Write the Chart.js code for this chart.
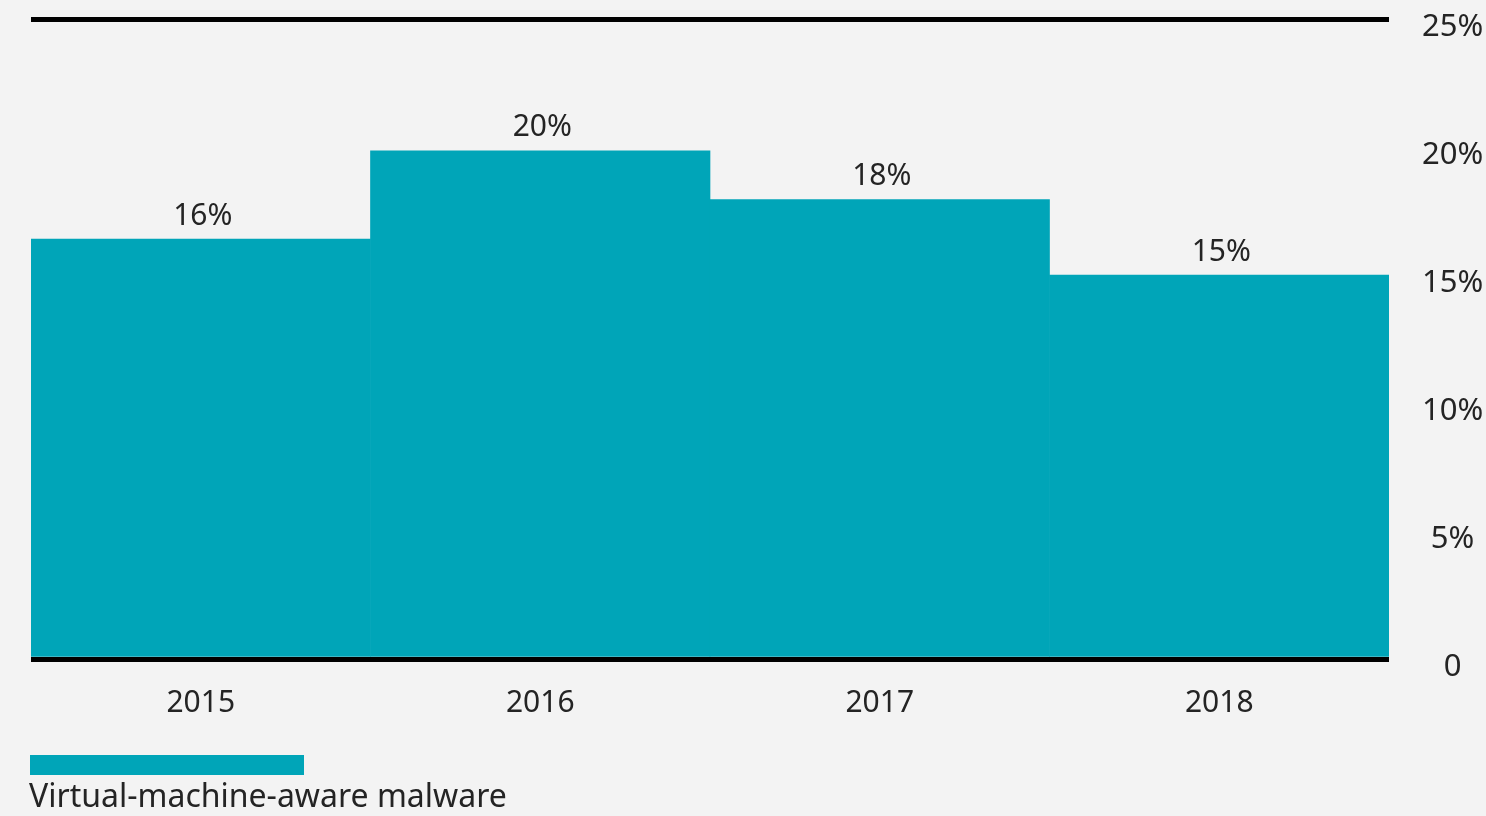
<!DOCTYPE html>
<html>
<head>
<meta charset="utf-8">
<script src="https://cdn.jsdelivr.net/npm/chart.js@4/dist/chart.umd.min.js"></script>
<style>
  html, body { margin: 0; padding: 0; background: #f3f3f3; }
  #wrap { width: 1486px; height: 816px; position: relative; }
</style>
</head>
<body>
<div id="wrap"><canvas id="vmChart"></canvas></div>
<script>
const years = ['2015', '2016', '2017', '2018'];
const shares = [16.4, 19.85, 17.95, 15.0];
const shareLabels = ['16%', '20%', '18%', '15%'];
const yTicks = [0, 5, 10, 15, 20, 25];
const seriesName = 'Virtual-machine-aware malware';

const teal = '#00a5b8';
const ink = '#242424';
const font = '"Noto Sans", sans-serif';

// value labels above each bar
const barLabels = {
    id: 'barLabels',
    afterDatasetsDraw(chart) {
        const ctx = chart.ctx;
        const meta = chart.getDatasetMeta(0);
        ctx.save();
        ctx.fillStyle = ink;
        ctx.font = '30px ' + font;
        ctx.textAlign = 'center';
        ctx.textBaseline = 'bottom';
        meta.data.forEach((bar, i) => {
            ctx.fillText(shareLabels[i], bar.x + 2, bar.y - 8);
        });
        ctx.restore();
    }
};

// legend: swatch on top, name underneath
const stackedLegend = {
    id: 'stackedLegend',
    afterDraw(chart) {
        const ctx = chart.ctx;
        const ds = chart.data.datasets[0];
        ctx.save();
        ctx.fillStyle = ds.backgroundColor;
        ctx.fillRect(30, 755, 274, 20);
        ctx.fillStyle = ink;
        ctx.font = '32px ' + font;
        ctx.textAlign = 'left';
        ctx.textBaseline = 'alphabetic';
        ctx.fillText(ds.label, 29, 807);
        ctx.restore();
    }
};

new Chart(document.getElementById('vmChart').getContext('2d'), {
    type: 'bar',
    data: {
        labels: years,
        datasets: [{
            label: seriesName,
            data: shares,
            backgroundColor: teal,
            barPercentage: 1,
            categoryPercentage: 1
        }]
    },
    options: {
        responsive: true,
        maintainAspectRatio: false,
        animation: false,
        layout: { padding: { top: 19, left: 31, right: 0, bottom: 77 } },
        plugins: {
            legend: { display: false },
            tooltip: { enabled: false }
        },
        scales: {
            x: {
                grid: { display: false },
                border: { display: false },
                ticks: {
                    color: ink,
                    font: { family: font, size: 30 },
                    padding: 18
                }
            },
            y: {
                position: 'right',
                min: 0,
                max: 25,
                afterBuildTicks(axis) {
                    axis.ticks = yTicks.map(v => ({ value: v }));
                },
                afterFit(axis) {
                    axis.width = 97;
                    axis.paddingTop = 0;
                    axis.paddingBottom = 0;
                },
                border: { display: false },
                grid: {
                    drawTicks: false,
                    lineWidth: 5,
                    color: c => (c.tick && (c.tick.value === 0 || c.tick.value === 25)) ? '#000' : 'rgba(0,0,0,0)'
                },
                ticks: {
                    color: ink,
                    font: { family: font, size: 31 },
                    padding: 33,
                    crossAlign: 'center',
                    labelOffset: 8,
                    callback: v => v === 0 ? '0' : v + '%'
                }
            }
        }
    },
    plugins: [barLabels, stackedLegend]
});
</script>
</body>
</html>
